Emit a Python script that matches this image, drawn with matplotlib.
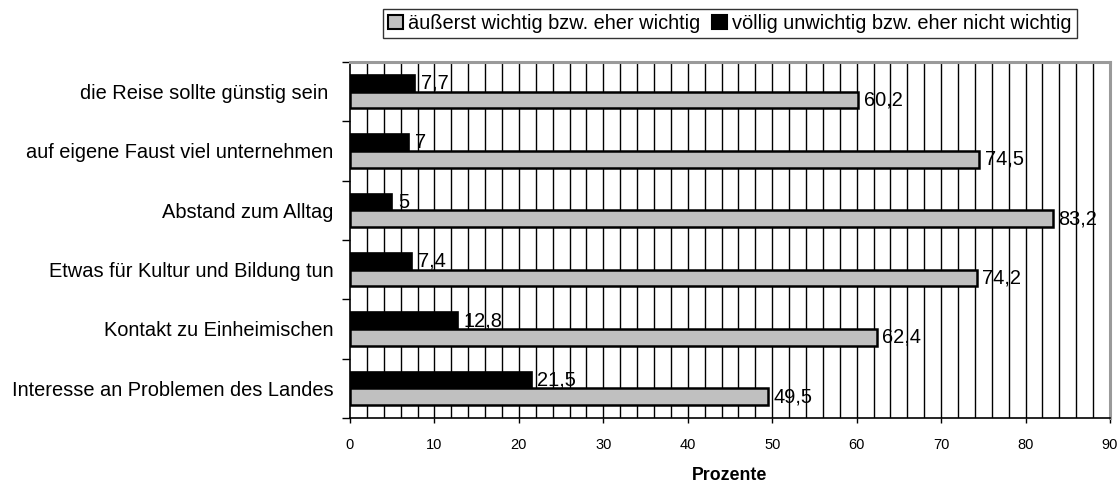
import matplotlib
matplotlib.use("Agg")
import matplotlib.pyplot as plt
import numpy as np
from matplotlib.patches import Patch
from matplotlib.ticker import FixedLocator

plt.rcParams['font.family'] = ['Liberation Sans', 'DejaVu Sans']

categories = [
    "die Reise sollte günstig sein ",
    "auf eigene Faust viel unternehmen",
    "Abstand zum Alltag",
    "Etwas für Kultur und Bildung tun",
    "Kontakt zu Einheimischen",
    "Interesse an Problemen des Landes",
]
wichtig = [60.2, 74.5, 83.2, 74.2, 62.4, 49.5]
unwichtig = [7.7, 7.0, 5.0, 7.4, 12.8, 21.5]
series_names = ["äußerst wichtig bzw. eher wichtig",
                "völlig unwichtig bzw. eher nicht wichtig"]
x_ticks = [0, 10, 20, 30, 40, 50, 60, 70, 80, 90]


def fmt(v):
    s = ("%.1f" % v).rstrip("0").rstrip(".")
    return s.replace(".", ",")


fig = plt.figure(figsize=(11.2, 4.84), dpi=100)
ax = fig.add_axes([350 / 1120, 1 - 418 / 484, 760 / 1120, (418 - 62) / 484])

y = np.arange(len(categories))
h = 0.28
gray = "#c0c0c0"

b_black = ax.barh(y - h / 2, unwichtig, height=h, color="black",
                  edgecolor="black", linewidth=1.2, zorder=3)
b_gray = ax.barh(y + h / 2, wichtig, height=h, color=gray,
                 edgecolor="black", linewidth=1.8, zorder=3)

for bars, vals in ((b_black, unwichtig), (b_gray, wichtig)):
    for rect, v in zip(bars, vals):
        ax.annotate(fmt(v), xy=(v, rect.get_y() + rect.get_height() / 2),
                    xytext=(4, 0), textcoords="offset points",
                    ha="left", va="center", fontsize=14.4, zorder=4)

ax.set_xlim(0, 90)
ax.set_ylim(len(categories) - 0.5, -0.5)

# vertical grid every 2 percent
for gx in np.arange(2, 90, 2):
    ax.axvline(gx, color="black", linewidth=1.0, zorder=1)

ax.xaxis.set_major_locator(FixedLocator(x_ticks))
ax.set_xticklabels([str(t) for t in x_ticks])
ax.tick_params(axis="x", direction="out", length=3.5, width=1, pad=11,
               labelsize=10.5)

ax.set_yticks(y)
ax.set_yticklabels(categories, fontsize=14.4)
ax.tick_params(axis="y", which="major", length=0, pad=12)
ax.yaxis.set_minor_locator(FixedLocator(np.arange(-0.5, len(categories), 1)))
ax.tick_params(axis="y", which="minor", direction="out", length=6, width=1)

ax.set_xlabel("Prozente", fontsize=12.8, fontweight="bold", labelpad=11)

for side in ("left", "bottom"):
    ax.spines[side].set_color("black")
    ax.spines[side].set_linewidth(1.2)
for side in ("top", "right"):
    ax.spines[side].set_color("#9a9a9a")
    ax.spines[side].set_linewidth(2.2)

handles = [Patch(facecolor=gray, edgecolor="black", linewidth=1.5),
           Patch(facecolor="black", edgecolor="black", linewidth=1.5)]
leg = fig.legend(handles, series_names, loc="center",
                 bbox_to_anchor=(730 / 1120, 1 - 23.5 / 484), ncol=2,
                 fontsize=14.4, frameon=True, fancybox=False,
                 handlelength=0.75, handleheight=0.75, handletextpad=0.25,
                 columnspacing=0.6, borderpad=0.25, borderaxespad=0)
leg.get_frame().set_edgecolor("black")
leg.get_frame().set_linewidth(1.0)

fig.savefig("out.png", dpi=100)
